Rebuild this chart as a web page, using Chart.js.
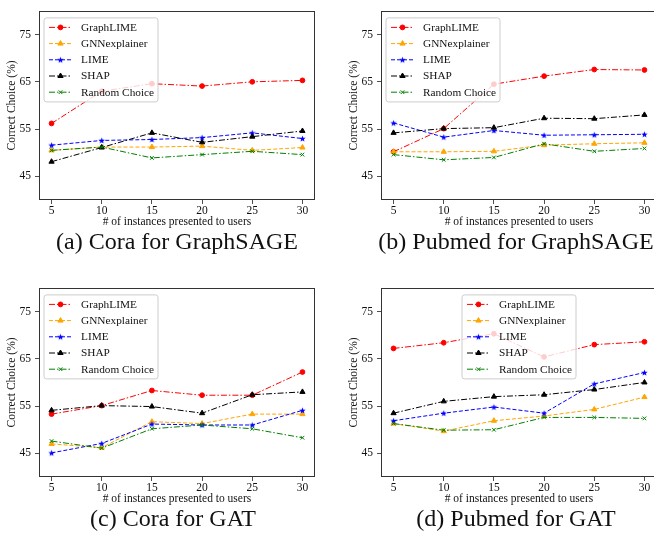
<!DOCTYPE html>
<html>
<head>
<meta charset="utf-8">
<script src="https://cdn.jsdelivr.net/npm/chart.js@4.4.1/dist/chart.umd.min.js"></script>
<style>
  html, body { margin: 0; padding: 0; background: #fff; overflow: hidden; }
  body { width: 654px; height: 536px; position: relative; }
  .panel { position: absolute; width: 327px; height: 260px; }
  .panel canvas { position: absolute; left: 0; top: 0; }
  .caption {
    position: absolute; top: 229px; width: 340px; margin-left: -170px;
    text-align: center; white-space: nowrap;
    font-family: "Liberation Serif", "Times New Roman", serif;
    font-size: 24px; line-height: 24px; color: #111;
  }
</style>
</head>
<body>
<div class="panel" style="left:0;top:0"><canvas id="chart-a" width="327" height="230"></canvas><div class="caption" style="left:177px">(a) Cora for GraphSAGE</div></div>
<div class="panel" style="left:342px;top:0"><canvas id="chart-b" width="327" height="230"></canvas><div class="caption" style="left:174px">(b) Pubmed for GraphSAGE</div></div>
<div class="panel" style="left:0;top:277px"><canvas id="chart-c" width="327" height="230"></canvas><div class="caption" style="left:173px">(c) Cora for GAT</div></div>
<div class="panel" style="left:342px;top:277px"><canvas id="chart-d" width="327" height="230"></canvas><div class="caption" style="left:174px">(d) Pubmed for GAT</div></div>
<script>
const xValues = [5, 10, 15, 20, 25, 30];
const yTicks = [45, 55, 65, 75];
const methodNames = ["GraphLIME", "GNNexplainer", "LIME", "SHAP", "Random Choice"];

// one row per method, in the order of methodNames
const coraSage = [
    [56.2, 63.0, 64.6, 64.1, 65.0, 65.3],
    [50.5, 51.2, 51.2, 51.4, 50.5, 51.1],
    [51.6, 52.6, 52.8, 53.2, 54.2, 53.0],
    [48.1, 51.1, 54.2, 52.2, 53.4, 54.6],
    [50.5, 51.2, 48.9, 49.6, 50.3, 49.6]
];
const pubmedSage = [
    [50.2, 55.1, 64.5, 66.2, 67.6, 67.5],
    [50.2, 50.2, 50.3, 51.6, 51.9, 52.1],
    [56.3, 53.3, 54.7, 53.7, 53.8, 53.9],
    [54.2, 55.1, 55.3, 57.3, 57.2, 58.0],
    [49.6, 48.5, 49.0, 51.9, 50.3, 50.9]
];
const coraGat = [
    [53.3, 55.1, 58.3, 57.3, 57.3, 62.2],
    [47.0, 46.2, 51.7, 51.3, 53.3, 53.3],
    [45.1, 47.1, 51.2, 51.0, 51.0, 54.1],
    [54.1, 55.1, 54.9, 53.5, 57.4, 58.0],
    [47.6, 46.1, 50.2, 51.0, 50.2, 48.3]
];
const pubmedGat = [
    [67.2, 68.4, 70.3, 65.4, 68.0, 68.6],
    [51.3, 49.7, 51.9, 52.9, 54.3, 56.9],
    [51.9, 53.5, 54.8, 53.5, 59.7, 62.1],
    [53.5, 56.0, 57.0, 57.4, 58.5, 60.0],
    [51.3, 49.9, 50.0, 52.6, 52.6, 52.4]
];

const xTitle = "# of instances presented to users";
const yTitle = "Correct Choice (%)";

const serif = "'Liberation Serif', 'Times New Roman', serif";
Chart.defaults.font.family = serif;
Chart.defaults.font.size = 11.5;
Chart.defaults.color = "#111";

// matplotlib '*' marker
function makeStar(color, r) {
    const c = document.createElement("canvas");
    const s = Math.ceil(r * 2 + 2);
    c.width = s; c.height = s;
    const g = c.getContext("2d");
    g.fillStyle = color;
    g.beginPath();
    for (let i = 0; i < 10; i++) {
        const rad = i % 2 === 0 ? r : r * 0.42;
        const a = -Math.PI / 2 + i * Math.PI / 5;
        const px = s / 2 + rad * Math.cos(a), py = s / 2 + 0.3 + rad * Math.sin(a);
        i === 0 ? g.moveTo(px, py) : g.lineTo(px, py);
    }
    g.closePath();
    g.fill();
    return c;
}

const dashDot = [6, 2, 1.5, 2];
const dashed = [4, 2];
const styles = [
    { color: "#ff0000", dash: dashDot, point: "circle", radius: 2.4 },
    { color: "#ffa500", dash: dashed, point: "triangle", radius: 3 },
    { color: "#0000ff", dash: dashed, point: makeStar("#0000ff", 3.4), radius: 3 },
    { color: "#000000", dash: dashDot, point: "triangle", radius: 3 },
    { color: "#008000", dash: dashDot, point: "crossRot", radius: 2.6 }
];

function drawMarker(ctx, st, x, y) {
    ctx.save();
    ctx.setLineDash([]);
    ctx.fillStyle = st.color;
    ctx.strokeStyle = st.color;
    ctx.lineWidth = 1;
    Chart.helpers.drawPoint(ctx, { pointStyle: st.point, radius: st.radius, rotation: 0, borderWidth: 1 }, x, y);
    ctx.restore();
}

function roundRect(ctx, x, y, w, h, r) {
    ctx.beginPath();
    ctx.moveTo(x + r, y);
    ctx.arcTo(x + w, y, x + w, y + h, r);
    ctx.arcTo(x + w, y + h, x, y + h, r);
    ctx.arcTo(x, y + h, x, y, r);
    ctx.arcTo(x, y, x + w, y, r);
    ctx.closePath();
}

const boxLegend = {
    id: "boxLegend",
    afterDatasetsDraw(chart, args, opts) {
        const ctx = chart.ctx, ca = chart.chartArea;
        const w = 114, h = 84;
        const left = opts.align === "center" ? (ca.left + ca.right) / 2 - w / 2 : ca.left + 5;
        const top = ca.top + 7;
        ctx.save();
        roundRect(ctx, left, top, w, h, 2.5);
        ctx.fillStyle = "rgba(255,255,255,0.8)";
        ctx.fill();
        ctx.strokeStyle = "#cccccc";
        ctx.lineWidth = 1;
        ctx.stroke();
        methodNames.forEach((name, i) => {
            const st = styles[i];
            const y = top + 9.5 + i * 16.2;
            ctx.beginPath();
            ctx.setLineDash(st.dash);
            ctx.strokeStyle = st.color;
            ctx.lineWidth = 1;
            ctx.moveTo(left + 5, y);
            ctx.lineTo(left + 28, y);
            ctx.stroke();
            drawMarker(ctx, st, left + 16.5, y);
            ctx.setLineDash([]);
            ctx.fillStyle = "#111";
            ctx.font = "11.3px " + serif;
            ctx.textBaseline = "middle";
            ctx.fillText(name, left + 37, y + 0.5);
        });
        ctx.restore();
    },
    afterDraw(chart) {
        const ctx = chart.ctx, ca = chart.chartArea;
        ctx.save();
        ctx.strokeStyle = "#333";
        ctx.lineWidth = 1;
        ctx.strokeRect(Math.round(ca.left) + 0.5, Math.round(ca.top) + 0.5,
            Math.round(ca.right - ca.left) - 1, Math.round(ca.bottom - ca.top) - 1);
        ctx.restore();
    }
};

function buildChart(id, rows, legendAlign) {
    const datasets = rows.map((vals, i) => ({
        label: methodNames[i],
        data: xValues.map((x, j) => ({ x: x, y: vals[j] })),
        borderColor: styles[i].color,
        backgroundColor: styles[i].color,
        borderWidth: 1,
        borderDash: styles[i].dash,
        pointStyle: styles[i].point,
        pointRadius: styles[i].radius,
        pointBorderWidth: 1,
        tension: 0,
        order: rows.length - i
    }));
    const tickGrid = { drawOnChartArea: false, drawTicks: true, tickLength: 4, color: "#222", lineWidth: 0.8 };
    return new Chart(document.getElementById(id), {
        type: "line",
        data: { datasets },
        options: {
            responsive: false,
            animation: false,
            layout: { padding: { top: 6, right: 12, left: 0, bottom: 0 } },
            plugins: {
                legend: { display: false },
                tooltip: { enabled: false },
                boxLegend: { align: legendAlign }
            },
            scales: {
                x: {
                    type: "linear",
                    min: 3.75,
                    max: 31.25,
                    afterBuildTicks: s => { s.ticks = xValues.map(v => ({ value: v })); },
                    afterFit: s => { s.height = 30; },
                    grid: tickGrid,
                    border: { display: false },
                    ticks: { padding: 0, color: "#111" },
                    title: { display: true, text: xTitle, padding: { top: 0, bottom: 1 }, color: "#111" }
                },
                y: {
                    type: "linear",
                    min: 40,
                    max: 80,
                    afterBuildTicks: s => { s.ticks = yTicks.map(v => ({ value: v })); },
                    afterFit: s => { s.width = 39; },
                    grid: tickGrid,
                    border: { display: false },
                    ticks: { padding: 4, color: "#111" },
                    title: { display: true, text: yTitle, padding: { top: 5, bottom: 0 }, color: "#111" }
                }
            }
        },
        plugins: [boxLegend]
    });
}

buildChart("chart-a", coraSage, "left");
buildChart("chart-b", pubmedSage, "left");
buildChart("chart-c", coraGat, "left");
buildChart("chart-d", pubmedGat, "center");
</script>
</body>
</html>
